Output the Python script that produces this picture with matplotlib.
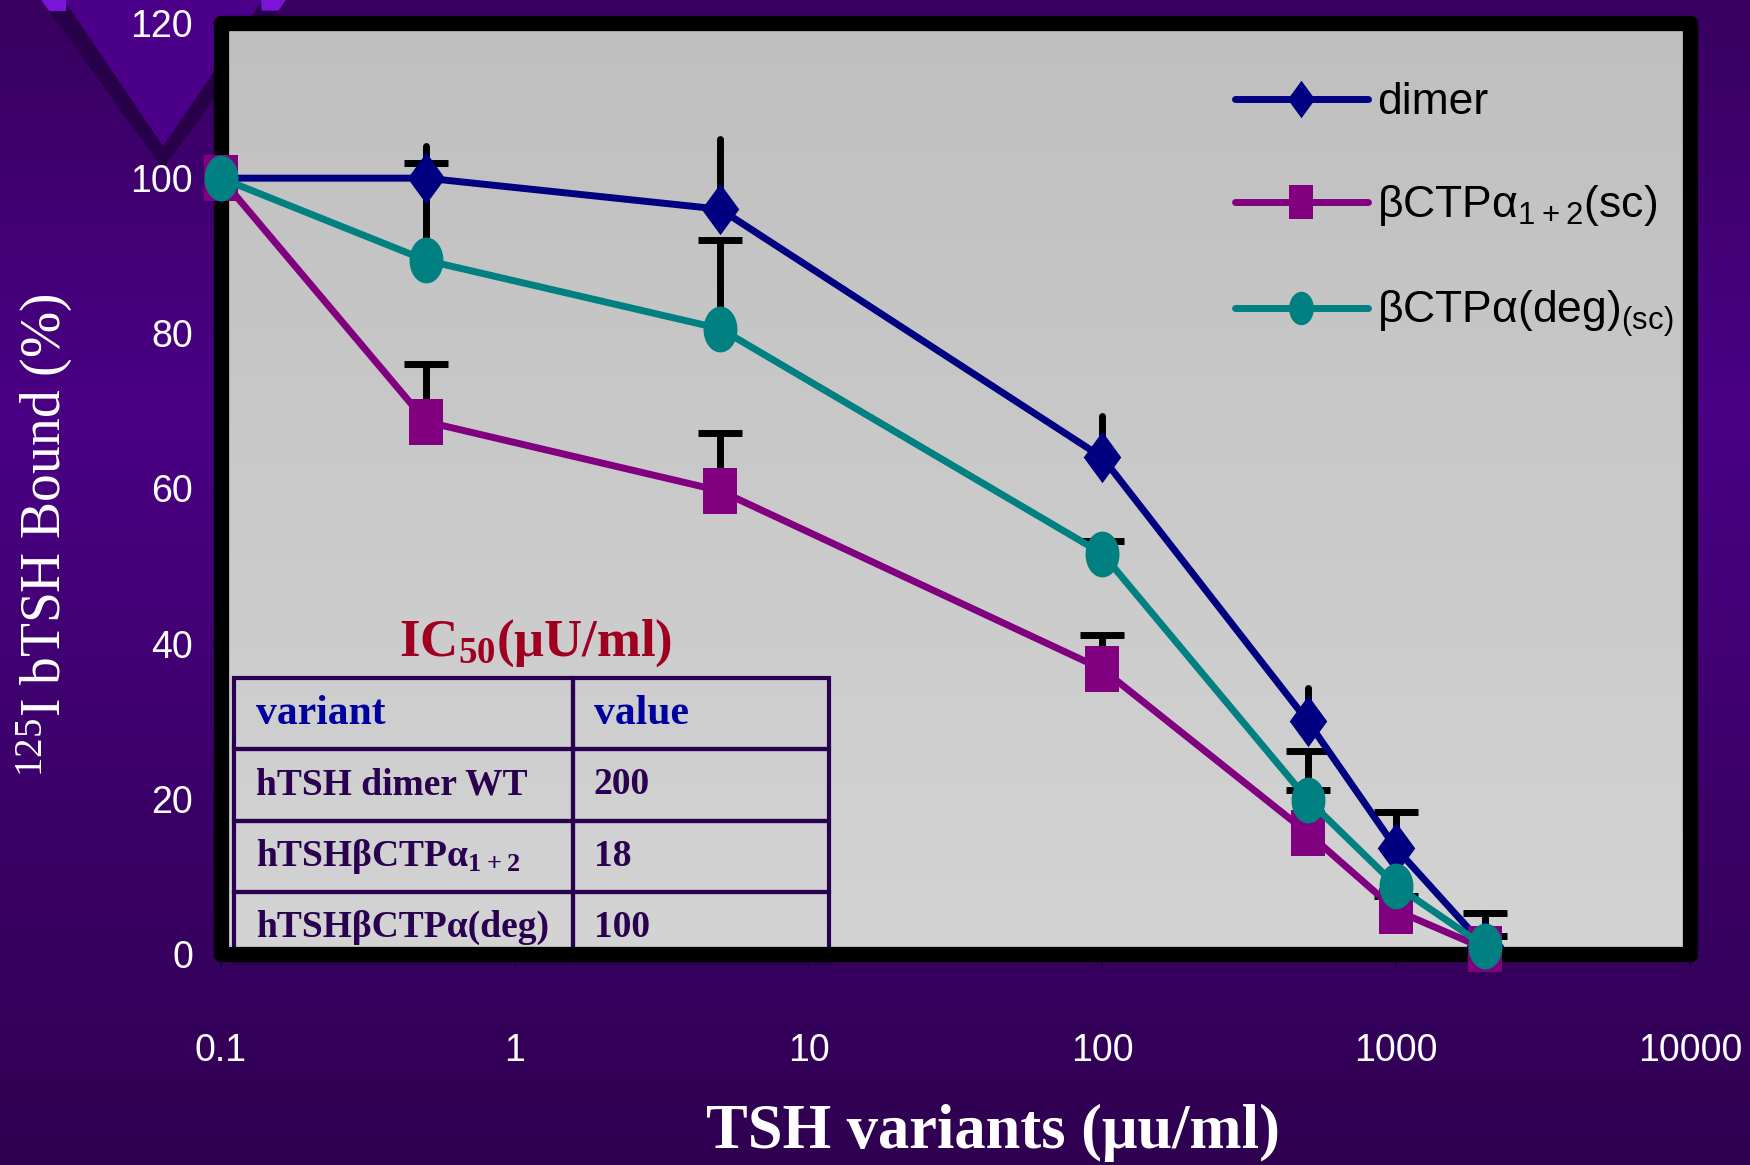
import numpy as np
import matplotlib
matplotlib.use('Agg')
import matplotlib.pyplot as plt
from matplotlib.patches import Polygon

# concentrations (uU/ml) and % bound, upper error only
conc = [0.1, 0.5, 5, 100, 500, 1000, 2000]
dimer = [100, 100, 96, 64, 30, 13.6, 1]
dimer_err = [0, 4.2, 9.1, 5.4, 4.3, 0, 0]
ctp12 = [100, 68.6, 59.7, 36.7, 15.6, 5.6, 0.7]
ctp12_err = [0, 7.5, 7.5, 4.4, 5.6, 1.9, 1.6]
ctpdeg = [100, 89.4, 80.6, 51.6, 19.9, 8.8, 1]
ctpdeg_err = [0, 12.6, 11.4, 1.6, 6.3, 9.5, 4.3]

labels = ['dimer', 'βCTPα$_{1+2}$(sc)', 'βCTPα(deg)$_{(sc)}$']
colors = ['#000080', '#800080', '#008080']

xticks = [0.1, 1, 10, 100, 1000, 10000]
xticklabels = ['0.1', '1', '10', '100', '1000', '10000']
yticks = [0, 20, 40, 60, 80, 100, 120]

table_title = 'IC$_{50}$(μU/ml)'
table_header = ['variant', 'value']
table_rows = [['hTSH dimer WT', '200'],
              ['hTSHβCTPα$_{1+2}$', '18'],
              ['hTSHβCTPα(deg)', '100']]

plt.rcParams['mathtext.default'] = 'regular'
sans = ['Liberation Sans', 'DejaVu Sans']
serif = ['Liberation Serif', 'DejaVu Serif']

W, H = 1750, 1165
fig = plt.figure(figsize=(17.5, 11.65), dpi=100)

# purple slide background
bg = fig.add_axes([0, 0, 1, 1], zorder=-10)
top = np.array([0x38, 0x00, 0x60]) / 255
mid = np.array([0x4a, 0x00, 0x84]) / 255
bot = np.array([0x2f, 0x00, 0x50]) / 255
t = np.linspace(0, 1, 256)[:, None]
grad = np.where(t < 0.35, top + (mid - top) * (t / 0.35), mid + (bot - mid) * ((t - 0.35) / 0.65))
bg.imshow(grad[:, None, :], extent=[0, W, H, 0], aspect='auto')
bg.add_patch(Polygon([(42, 0), (163, 168), (285, 0)], color='#28004a'))
bg.add_patch(Polygon([(65, 0), (163, 145), (262, 0)], color='#4c008a'))
bg.add_patch(Polygon([(42, 0), (65, 0), (65, 10), (49, 10)], color='#7a14d6'))
bg.add_patch(Polygon([(262, 0), (285, 0), (278, 10), (262, 10)], color='#7a14d6'))
bg.set_xlim(0, W)
bg.set_ylim(H, 0)
bg.axis('off')

pos = [221 / W, 1 - 954 / H, (1690 - 221) / W, (954 - 23) / H]

# gray plot area gradient
gx = fig.add_axes(pos, zorder=-5)
g = np.linspace(0.75, 0.83, 256)[:, None]
gx.imshow(np.repeat(g, 3, axis=1)[:, None, :], extent=[0, 1, 0, 1], aspect='auto')
gx.axis('off')

ax = fig.add_axes(pos)
ax.set_facecolor('none')
ax.set_xscale('log')
ax.set_xlim(0.1, 10000)
ax.set_ylim(0, 120)

diamond = [(0, 1), (0.73, 0), (0, -1), (-0.73, 0)]
square = [(-0.74, -1), (0.74, -1), (0.74, 1), (-0.74, 1)]
ang = np.linspace(0, 2 * np.pi, 60)
ellipse = list(zip(0.74 * np.cos(ang), np.sin(ang)))

x = np.array(conc)
for y, err, cap in [(dimer, dimer_err, 0), (ctp12, ctp12_err, 16), (ctpdeg, ctpdeg_err, 16)]:
    y = np.array(y)
    err = np.array(err)
    m = err > 0
    eb = ax.errorbar(x[m], y[m], yerr=[np.zeros(m.sum()), err[m]], fmt='none',
                     ecolor='black', elinewidth=5, capsize=cap, capthick=5,
                     zorder=3, clip_on=False)
    for c in eb[2]:
        c.set_capstyle('round')
    if eb[1]:
        eb[1][0].set_visible(False)  # no cap at the lower (zero) end

handles = []
for y, c, mk, ms, lab, z in [(dimer, colors[0], diamond, 37, labels[0], 4),
                             (ctp12, colors[1], square, 33, labels[1], 5),
                             (ctpdeg, colors[2], ellipse, 33, labels[2], 6)]:
    ln, = ax.plot(conc, y, color=c, lw=5, marker=mk, ms=ms, mew=0,
                  zorder=z, clip_on=False, solid_capstyle='round', label=lab)
    handles.append(ln)

for s in ax.spines.values():
    s.set_linewidth(11)
    s.set_color('black')
    s.set_capstyle('round')

ax.set_xticks(xticks)
ax.set_xticklabels(xticklabels)
ax.minorticks_off()
ax.set_yticks(yticks)
ax.tick_params(axis='x', length=10, width=1.2, color='#200040', pad=47,
               labelcolor='white', labelsize=27)
ax.tick_params(axis='y', length=6, width=1.2, color='#200040', pad=14,
               labelcolor='white', labelsize=27)
for lb in ax.get_xticklabels() + ax.get_yticklabels():
    lb.set_family(sans)

ax.set_xlabel('TSH variants (μu/ml)', family=serif, weight='bold', size=45,
              color='white')
ax.xaxis.set_label_coords(0.5255, -0.1923)
ax.xaxis.label.set_va('center')
ax.set_ylabel('$^{125}$I bTSH Bound (%)', family=serif, size=40, color='white')
ax.yaxis.set_label_coords(-0.12, 0.45)
ax.yaxis.label.set_va('center')

leg = ax.legend(handles=handles, loc='upper left', bbox_to_anchor=(0.675, 0.96),
                frameon=False, prop={'family': sans, 'size': 32},
                handlelength=3.0, handletextpad=0.2, labelspacing=1.35,
                markerscale=0.73, borderpad=0)

# IC50 table
ax.text(0.2144, 0.334, table_title, transform=ax.transAxes, ha='center', va='center',
        family=serif, weight='bold', size=38, color='#a00020')
tab = ax.table(cellText=[table_header] + table_rows, cellLoc='left',
               bbox=[0.0089, -0.0097, 0.405, 0.306], colWidths=[339, 256], zorder=2)
tab.auto_set_font_size(False)
for (r, c), cell in tab.get_celld().items():
    cell.set_edgecolor('#2a0050')
    cell.set_linewidth(3)
    cell.set_facecolor('none')
    cell.PAD = 0.065 if c == 0 else 0.08
    txt = cell.get_text()
    txt.set_family(serif)
    txt.set_weight('bold')
    if r == 0:
        txt.set_color('#0000a0')
        txt.set_fontsize(30)
    else:
        txt.set_color('#2a0050')
        txt.set_fontsize(27)

fig.savefig('out.png', dpi=100)
